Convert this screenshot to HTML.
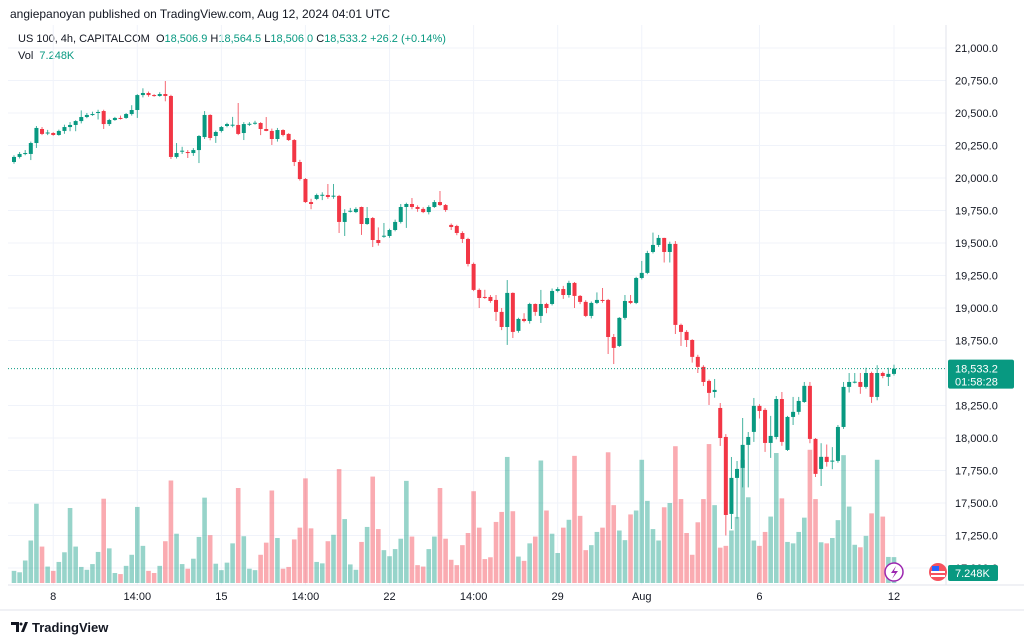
<!DOCTYPE html>
<html><head><meta charset="utf-8"><style>
body{margin:0;background:#fff;font-family:"Liberation Sans",sans-serif;}
#wrap{position:relative;width:1024px;height:643px;overflow:hidden;}
.t{position:absolute;font-size:12px;color:#131722;white-space:nowrap;}
.g{color:#089981}
</style></head><body>
<div id="wrap">
<div class="t" style="left:10px;top:7px;font-size:12px">angiepanoyan published on TradingView.com, Aug 12, 2024 04:01 UTC</div>
<div class="t" style="left:18px;top:33px;font-size:11px">US 100, 4h, CAPITALCOM&nbsp; O<span class="g">18,506.9</span> H<span class="g">18,564.5</span> L<span class="g">18,506.0</span> C<span class="g">18,533.2</span> <span class="g">+26.2 (+0.14%)</span></div>
<div class="t" style="left:18px;top:50px;font-size:11px">Vol&nbsp; <span class="g">7.248K</span></div>
<svg id="chart" width="1024" height="643" style="position:absolute;left:0;top:0"></svg>
<div class="t" style="left:32px;top:620px;font-size:13px;font-weight:bold;color:#131722">TradingView</div>
</div>
<script>
const opens=[20123,20162,20185,20185,20269,20377,20346,20346,20331,20362,20392,20408,20438,20469,20485,20500,20515,20415,20446,20462,20462,20492,20523,20638,20654,20638,20631,20646,20631,20162,20208,20200,20192,20215,20315,20485,20323,20362,20400,20408,20408,20346,20415,20423,20423,20377,20362,20300,20369,20339,20292,20123,19992,19815,19839,19869,19869,19862,19862,19662,19746,19738,19777,19646,19692,19523,19554,19554,19600,19662,19777,19800,19777,19762,19738,19777,19815,19792,19639,19631,19577,19531,19339,19139,19085,19085,19062,18970,18854,19116,18824,18916,18900,19031,18939,19031,19031,19131,19146,19100,19193,19093,19047,18939,19039,19062,19062,18777,18708,18924,19054,19039,19231,19270,19431,19485,19539,19431,19493,18870,18816,18754,18624,18547,18439,18354,18231,18008,17416,17693,17770,17947,18047,18247,18216,17962,18008,18300,17908,18162,18201,18277,18401,17993,17762,17855,17824,17824,18085,18393,18431,18431,18393,18500,18316,18500,18470,18493];
const closes=[20162,20185,20192,20269,20385,20339,20350,20331,20362,20392,20408,20438,20469,20485,20492,20508,20415,20446,20462,20458,20492,20523,20638,20654,20638,20631,20646,20631,20162,20192,20210,20192,20215,20323,20485,20308,20354,20392,20415,20410,20339,20415,20417,20425,20377,20362,20300,20369,20331,20292,20123,19992,19815,19800,19869,19871,19854,19864,19662,19731,19748,19762,19646,19692,19523,19500,19556,19600,19662,19777,19800,19777,19762,19738,19777,19815,19792,19754,19623,19577,19531,19339,19139,19077,19083,19054,18970,18854,19116,18816,18916,18900,19031,18970,19031,19000,19131,19146,19100,19193,19093,19047,18939,19039,19062,19054,18777,18693,18924,19054,19039,19231,19270,19423,19485,19539,19431,19493,18870,18816,18754,18624,18547,18431,18347,18370,18000,17408,17693,17762,17947,18008,18247,18208,17962,18016,18300,17970,18162,18201,18285,18401,17993,17724,17855,17816,17826,18085,18393,18431,18433,18393,18500,18316,18500,18477,18493,18533];
const highs=[20175,20200,20215,20280,20400,20392,20370,20352,20372,20410,20430,20445,20520,20500,20510,20525,20525,20455,20470,20480,20500,20560,20645,20690,20665,20645,20660,20746,20640,20269,20240,20215,20230,20330,20515,20490,20365,20400,20425,20470,20577,20430,20430,20440,20430,20469,20380,20385,20375,20345,20300,20140,20000,19840,19880,19890,19954,19954,19870,19760,19770,19775,19780,19777,19700,19620,19654,19610,19680,19800,19810,19846,19790,19775,19790,19830,19900,19800,19650,19640,19590,19540,19350,19150,19140,19100,19100,19000,19215,19120,18925,18960,19040,19035,19139,19040,19150,19160,19170,19210,19200,19100,19060,19050,19120,19154,19070,18800,18930,19100,19100,19240,19362,19440,19580,19562,19540,19510,19515,18880,18830,18760,18640,18560,18450,18454,18269,18030,17854,17823,18154,18046,18308,18260,18230,18170,18323,18354,18170,18316,18316,18431,18431,18000,17960,17950,17930,18100,18431,18500,18500,18500,18540,18510,18560,18510,18540,18564];
const lows=[20110,20150,20175,20138,20231,20330,20330,20325,20325,20340,20360,20360,20420,20460,20478,20450,20377,20400,20440,20450,20455,20480,20462,20620,20625,20625,20625,20590,20146,20150,20185,20154,20170,20115,20300,20290,20270,20350,20390,20390,20330,20292,20400,20410,20330,20360,20254,20280,20320,20285,20092,19980,19808,19760,19830,19830,19840,19840,19577,19554,19735,19730,19562,19640,19469,19480,19540,19540,19590,19650,19616,19760,19740,19730,19720,19770,19785,19740,19600,19560,19500,19320,19130,19000,19070,19040,18900,18830,18716,18769,18810,18890,18880,18940,18885,18960,19020,19120,19070,19080,19000,19030,18930,18920,19030,19040,18646,18569,18700,18910,19030,19030,19220,19260,19420,19470,19350,19350,18800,18708,18700,18580,18500,18400,18254,18310,17939,17250,17300,17380,17620,17620,17970,18150,17893,17847,17990,17940,17900,18100,18180,18270,17960,17700,17631,17780,17760,17810,18070,18350,18420,18340,18380,18270,18290,18460,18400,18480];
const volumes=[3.4,3.0,6.3,11.9,22.2,10.2,4.6,3.4,5.9,8.6,21.0,10.2,4.5,3.7,5.3,8.7,23.6,9.7,2.8,2.5,4.8,7.9,21.3,10.4,3.4,2.8,4.8,11.7,28.7,13.8,5.3,4.0,6.8,12.9,23.9,13.4,5.4,3.6,5.7,11.1,26.6,13.1,4.0,3.6,7.9,11.3,25.9,12.6,4.0,4.5,12.2,15.5,29.3,15.3,5.9,5.5,11.7,13.5,31.9,17.9,5.2,3.7,11.5,15.7,29.8,15.1,9.2,7.5,9.5,12.4,28.6,13.0,5.0,4.6,9.5,13.0,26.6,12.4,6.5,5.0,10.6,14.0,25.7,15.5,6.7,7.2,17.1,19.9,35.3,20.1,7.4,6.2,11.1,13.0,34.3,20.3,13.8,8.4,15.5,17.7,35.6,18.8,9.2,10.6,14.3,15.5,36.6,21.8,14.7,12.0,19.2,20.3,34.5,23.0,15.1,11.9,21.2,22.4,38.3,23.5,14.0,7.9,17.0,23.5,38.9,21.8,9.9,10.4,14.7,18.5,34.5,24.0,11.9,10.4,14.3,18.6,36.4,23.7,11.5,11.1,14.3,18.3,37.3,23.5,11.4,11.1,12.6,17.6,35.8,21.4,10.7,10.0,13.2,19.5,34.5,18.6,7.3,7.248];
const priceTicks=[21000,20750,20500,20250,20000,19750,19500,19250,19000,18750,18250,18000,17750,17500,17250,17000];
const timeTickIdx=[7,22,37,52,67,82,97,112,133,157];
const timeTickLabels=["8","14:00","15","14:00","22","14:00","29","Aug","6","12"];
const lastPrice=18533.2, countdown="01:58:28", volLabel="7.248K";

const NS="http://www.w3.org/2000/svg";
const svg=document.getElementById('chart');
function el(tag,attrs,parent){const e=document.createElementNS(NS,tag);for(const k in attrs)e.setAttribute(k,attrs[k]);(parent||svg).appendChild(e);return e;}
const xOf=i=>14+i*5.605;
const yOf=p=>48+(21000-p)/250*32.5;
const vy=v=>583-v/0.28;
const plotR=946;

const grid=el('g',{});


priceTicks.forEach(p=>{el('line',{x1:8,x2:plotR,y1:yOf(p),y2:yOf(p),stroke:'#f0f3fa','stroke-width':1},grid);});
timeTickIdx.forEach(i=>{el('line',{x1:xOf(i),x2:xOf(i),y1:25,y2:585,stroke:'#f0f3fa','stroke-width':1},grid);});

const vg=el('g',{});


volumes.forEach((v,i)=>{const up=closes[i]>=opens[i];
 const r=el('rect',{x:xOf(i)-2.3,y:vy(v),width:4.6,height:583-vy(v),fill:up?'rgba(8,153,129,0.42)':'rgba(242,54,69,0.42)'},vg);
 
 });

const cg=el('g',{});


opens.forEach((o,i)=>{const c=closes[i];const up=c>=o;const col=up?'#089981':'#F23645';const x=xOf(i);
 const g=el('g',{},cg);
 
 
 el('line',{x1:x,x2:x,y1:yOf(highs[i]),y2:yOf(lows[i]),stroke:col,'stroke-width':1,opacity:0.75},g);
 const t=Math.min(yOf(o),yOf(c)),h=Math.max(1,Math.abs(yOf(o)-yOf(c)));
 el('rect',{x:x-2,y:t,width:4,height:h,fill:col},g);});

const ly=yOf(lastPrice);
const lp=el('line',{x1:8,x2:plotR,y1:ly,y2:ly,stroke:'#089981','stroke-width':1,'stroke-dasharray':'1,2'});



el('line',{x1:plotR,x2:plotR,y1:25,y2:585,stroke:'#e0e3eb'});
el('line',{x1:8,x2:1024,y1:585,y2:585,stroke:'#e0e3eb'});
el('line',{x1:0,x2:1024,y1:610,y2:610,stroke:'#e0e3eb'});
priceTicks.forEach(p=>{const t=el('text',{x:955,y:yOf(p)+4,'font-size':11,fill:'#131722','font-family':'Liberation Sans'});t.textContent=p.toLocaleString('en-US',{minimumFractionDigits:1});
 
 });
timeTickIdx.forEach((i,k)=>{const t=el('text',{x:xOf(i),y:600,'font-size':11,fill:'#131722','text-anchor':'middle','font-family':'Liberation Sans'});t.textContent=timeTickLabels[k];
 
 });

const pb=el('g',{});


el('rect',{x:948,y:ly-9,width:66,height:29,rx:2,fill:'#089981'},pb);
let t1=el('text',{x:955,y:ly+4,'font-size':11,fill:'#fff','font-family':'Liberation Sans'},pb);t1.textContent=lastPrice.toLocaleString('en-US',{minimumFractionDigits:1});
let t2=el('text',{x:955,y:ly+17,'font-size':11,fill:'#fff','font-family':'Liberation Sans'},pb);t2.textContent=countdown;
const vb=el('g',{});


el('rect',{x:948,y:565,width:50,height:16,rx:2,fill:'#089981'},vb);
let t3=el('text',{x:955,y:577,'font-size':11,fill:'#fff','font-family':'Liberation Sans'},vb);t3.textContent=volLabel;

const ic=el('g',{});


el('circle',{cx:894,cy:572,r:9,fill:'#fff',stroke:'#9c27b0','stroke-width':1.5},ic);
el('path',{d:'M896 566 L891 573 L895 573 L892 579 L898 571 L894 571 Z',fill:'#9c27b0'},ic);
const fl=el('g',{});


el('circle',{cx:938,cy:572,r:9,fill:'#f7525f'},fl);
el('rect',{x:931,y:571,width:14,height:2,fill:'#fff'},fl);
el('rect',{x:931,y:575,width:14,height:2,fill:'#fff'},fl);
el('rect',{x:932,y:566,width:7,height:5,fill:'#2962ff'},fl);
const logo=el('g',{});


el('path',{d:'M11 622 h8 v10 h-3 v-7 h-5 Z M21 632 l4 -10 h3 l-4 10 Z',fill:'#131722'},logo);
el('circle',{cx:21,cy:624,r:1.5,fill:'#131722'},logo);
</script>
</body></html>
